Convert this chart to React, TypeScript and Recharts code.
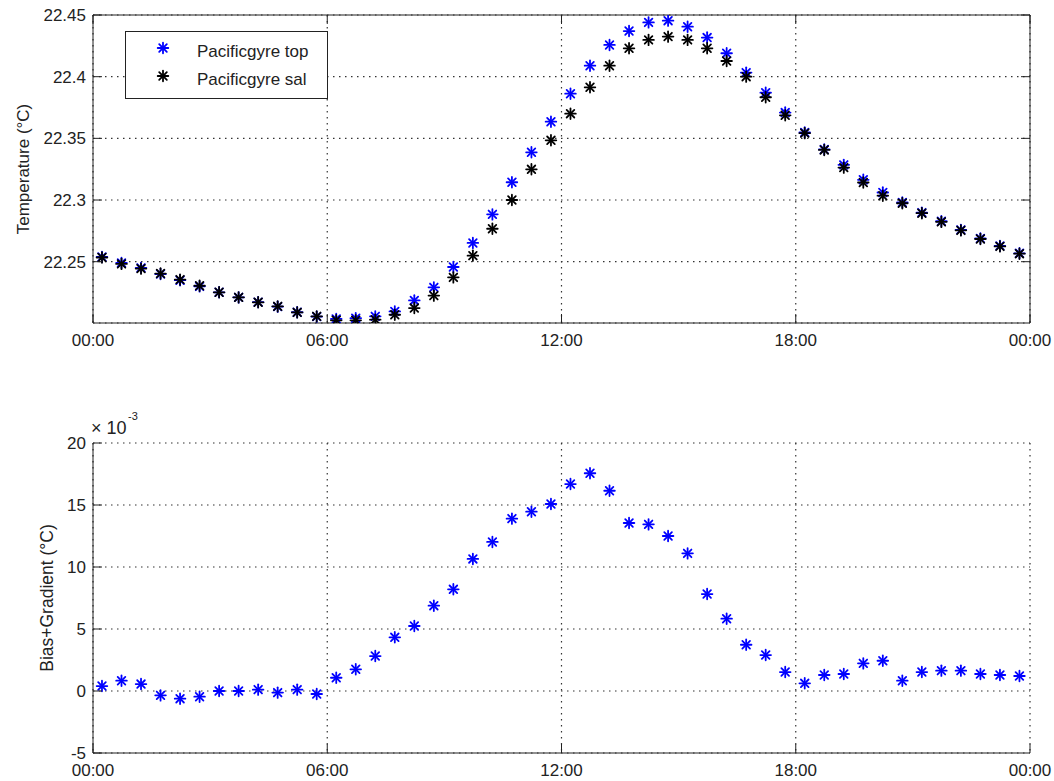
import React from 'react';
import { ScatterChart, Scatter, XAxis, YAxis, CartesianGrid, ReferenceLine, Legend } from 'recharts';

// hours since midnight, one sample every half hour
const times = [
  0.23, 0.73, 1.23, 1.73, 2.23, 2.73, 3.23, 3.73, 4.23, 4.73, 5.23, 5.73,
  6.23, 6.73, 7.23, 7.73, 8.23, 8.73, 9.23, 9.73, 10.23, 10.73, 11.23, 11.73,
  12.23, 12.73, 13.23, 13.73, 14.23, 14.73, 15.23, 15.73, 16.23, 16.73, 17.23, 17.73,
  18.23, 18.73, 19.23, 19.73, 20.23, 20.73, 21.23, 21.73, 22.23, 22.73, 23.23, 23.73,
];

const topTemp = [
  22.2538, 22.249, 22.245, 22.24, 22.235, 22.23, 22.2252, 22.2211, 22.2172, 22.2136, 22.209, 22.2055,
  22.2036, 22.2042, 22.2057, 22.2097, 22.2186, 22.2292, 22.2457, 22.2652, 22.2884, 22.3144, 22.3387, 22.3635,
  22.3862, 22.4089, 22.4257, 22.437, 22.444, 22.4454, 22.4405, 22.4317, 22.419, 22.4033, 22.387, 22.3709,
  22.3548, 22.341, 22.3285, 22.3164, 22.3061, 22.298, 22.2898, 22.2828, 22.2758, 22.2688, 22.2628, 22.2568,
];

const salTemp = [
  22.2534, 22.2482, 22.2444, 22.2404, 22.2355, 22.2305, 22.2252, 22.2211, 22.2171, 22.2138, 22.2089, 22.2057,
  22.2025, 22.2025, 22.203, 22.207, 22.2124, 22.2225, 22.2373, 22.2549, 22.2767, 22.3, 22.3249, 22.3484,
  22.37, 22.3914, 22.4089, 22.423, 22.4298, 22.4325, 22.4298, 22.423, 22.4127, 22.4, 22.3833, 22.3687,
  22.3542, 22.3406, 22.3263, 22.3142, 22.3035, 22.2974, 22.2893, 22.2823, 22.2754, 22.2684, 22.2624, 22.2565,
];

// x 10^-3 °C
const biasGradient = [
  0.4, 0.83, 0.56, -0.35, -0.62, -0.46, 0, 0, 0.11, -0.13, 0.11, -0.24,
  1.07, 1.75, 2.82, 4.33, 5.24, 6.88, 8.2, 10.65, 12.02, 13.9, 14.46, 15.08,
  16.69, 17.56, 16.15, 13.55, 13.44, 12.5, 11.1, 7.82, 5.83, 3.73, 2.9, 1.53,
  0.62, 1.29, 1.37, 2.23, 2.44, 0.83, 1.53, 1.64, 1.64, 1.37, 1.29, 1.21,
];

const hourTicks = [0, 6, 12, 18, 24];
const tempTicks = [22.25, 22.3, 22.35, 22.4, 22.45];
const biasTicks = [-5, 0, 5, 10, 15, 20];
const seriesNames = ['Pacificgyre top', 'Pacificgyre sal'];
const seriesColors = ['#0000ff', '#000000'];

const topData = times.map((t, i) => ({ t, v: topTemp[i] }));
const salData = times.map((t, i) => ({ t, v: salTemp[i] }));
const biasData = times.map((t, i) => ({ t, v: biasGradient[i] }));

const FONT = '"Liberation Sans", Arial, Helvetica, sans-serif';
const INK = '#222';
const PLOT_W = 937;
const TICK = 9;

const hourLabel = (h: number) => `${String(h % 24).padStart(2, '0')}:00`;

function Star({ cx, cy, color }: { cx: number; cy: number; color: string }) {
  const r = 5.3;
  const d = r * 0.72;
  return (
    <g stroke={color} strokeWidth={1.8} strokeLinecap="round">
      <line x1={cx - r} y1={cy} x2={cx + r} y2={cy} />
      <line x1={cx} y1={cy - r} x2={cx} y2={cy + r} />
      <line x1={cx - d} y1={cy - d} x2={cx + d} y2={cy + d} />
      <line x1={cx - d} y1={cy + d} x2={cx + d} y2={cy - d} />
    </g>
  );
}

const starShape = (color: string) => (p: any) => <Star cx={p.cx} cy={p.cy} color={color} />;

function makeXTick(plotH: number, boxed: boolean) {
  return (p: any) => (
    <g>
      <line x1={p.x} y1={p.y} x2={p.x} y2={p.y - TICK} stroke={INK} />
      {boxed && <line x1={p.x} y1={p.y - plotH} x2={p.x} y2={p.y - plotH + TICK} stroke={INK} />}
      <text x={p.x} y={p.y + 23} textAnchor="middle" fontFamily={FONT} fontSize={17} fill={INK}>
        {hourLabel(p.payload.value)}
      </text>
    </g>
  );
}

function makeYTick(boxed: boolean) {
  return (p: any) => (
    <g>
      <line x1={p.x} y1={p.y} x2={p.x + TICK} y2={p.y} stroke={INK} />
      {boxed && <line x1={p.x + PLOT_W} y1={p.y} x2={p.x + PLOT_W - TICK} y2={p.y} stroke={INK} />}
      <text x={p.x - 7} y={p.y + 6} textAnchor="end" fontFamily={FONT} fontSize={17} fill={INK}>
        {String(p.payload.value)}
      </text>
    </g>
  );
}

function LegendBox() {
  return (
    <div
      style={{
        position: 'relative',
        width: 201,
        height: 66,
        border: `1px solid ${INK}`,
        background: '#fff',
        fontFamily: FONT,
        fontSize: 17,
        color: INK,
      }}
    >
      {seriesNames.map((name, i) => (
        <React.Fragment key={name}>
          <svg style={{ position: 'absolute', left: 29, top: 8 + i * 28 }} width={16} height={16}>
            <Star cx={8} cy={8} color={seriesColors[i]} />
          </svg>
          <div style={{ position: 'absolute', left: 71, top: 10 + i * 28, lineHeight: '20px', whiteSpace: 'nowrap' }}>
            {name}
          </div>
        </React.Fragment>
      ))}
    </div>
  );
}

const gridProps = { stroke: '#333', strokeDasharray: '1.5 4.5', strokeWidth: 1.2 };

export default function App() {
  return (
    <div style={{ position: 'absolute', left: 0, top: 0, width: 1054, height: 781, background: '#fff' }}>
      <div style={{ position: 'absolute', left: 0, top: 0 }}>
        <ScatterChart width={1054} height={360} margin={{ top: 15, right: 24, bottom: 0, left: 0 }}>
          <CartesianGrid {...gridProps} />
          <XAxis
            type="number"
            dataKey="t"
            domain={[0, 24]}
            ticks={hourTicks}
            interval={0}
            height={37}
            tickSize={0}
            tickMargin={0}
            tickLine={false}
            axisLine={{ stroke: INK }}
            tick={makeXTick(308, true)}
            allowDataOverflow
          />
          <YAxis
            type="number"
            dataKey="v"
            domain={[22.2003, 22.45]}
            ticks={tempTicks}
            interval={0}
            width={93}
            tickSize={0}
            tickMargin={0}
            tickLine={false}
            axisLine={{ stroke: INK }}
            tick={makeYTick(true)}
            allowDataOverflow
            label={(p: any) => {
              const vb = p.viewBox ?? { x: 0, y: 15, width: 93, height: 308 };
              const cx = vb.x + 23;
              const cy = vb.y + vb.height / 2;
              return (
                <text x={cx} y={cy} transform={`rotate(-90 ${cx} ${cy})`} textAnchor="middle"
                  fontFamily={FONT} fontSize={17} fill={INK} dy={6}>
                  Temperature (°C)
                </text>
              );
            }}
          />
          <ReferenceLine y={22.45} stroke={INK} />
          <ReferenceLine x={24} stroke={INK} />
          <Scatter name={seriesNames[0]} data={topData} fill={seriesColors[0]} shape={starShape(seriesColors[0])} isAnimationActive={false} />
          <Scatter name={seriesNames[1]} data={salData} fill={seriesColors[1]} shape={starShape(seriesColors[1])} isAnimationActive={false} />
          <Legend
            layout="vertical"
            align="center"
            verticalAlign="middle"
            wrapperStyle={{ left: 125, top: 31, width: 203, height: 68 }}
            content={() => <LegendBox />}
          />
        </ScatterChart>
      </div>
      <div style={{ position: 'absolute', left: 0, top: 390 }}>
        <ScatterChart width={1054} height={391} margin={{ top: 53, right: 24, bottom: 0, left: 0 }}>
          <CartesianGrid {...gridProps} />
          <XAxis
            type="number"
            dataKey="t"
            domain={[0, 24]}
            ticks={hourTicks}
            interval={0}
            height={28}
            tickSize={0}
            tickMargin={0}
            tickLine={false}
            axisLine={{ stroke: INK }}
            tick={makeXTick(310, false)}
            allowDataOverflow
          />
          <YAxis
            type="number"
            dataKey="v"
            domain={[-5, 20]}
            ticks={biasTicks}
            interval={0}
            width={93}
            tickSize={0}
            tickMargin={0}
            tickLine={false}
            axisLine={{ stroke: INK }}
            tick={makeYTick(false)}
            allowDataOverflow
            label={(p: any) => {
              const vb = p.viewBox ?? { x: 0, y: 53, width: 93, height: 310 };
              const cx = vb.x + 47;
              const cy = vb.y + vb.height / 2;
              return (
                <g fontFamily={FONT} fill={INK}>
                  <text x={cx} y={cy} transform={`rotate(-90 ${cx} ${cy})`} textAnchor="middle" fontSize={17.5} dy={6}>
                    Bias+Gradient (°C)
                  </text>
                  <text x={vb.x + 91} y={vb.y - 9} fontSize={18}>× 10</text>
                  <text x={vb.x + 128} y={vb.y - 23} fontSize={11}>-3</text>
                </g>
              );
            }}
          />
          <Scatter name="Bias+Gradient" data={biasData} fill={seriesColors[0]} shape={starShape(seriesColors[0])} isAnimationActive={false} />
        </ScatterChart>
      </div>
    </div>
  );
}
